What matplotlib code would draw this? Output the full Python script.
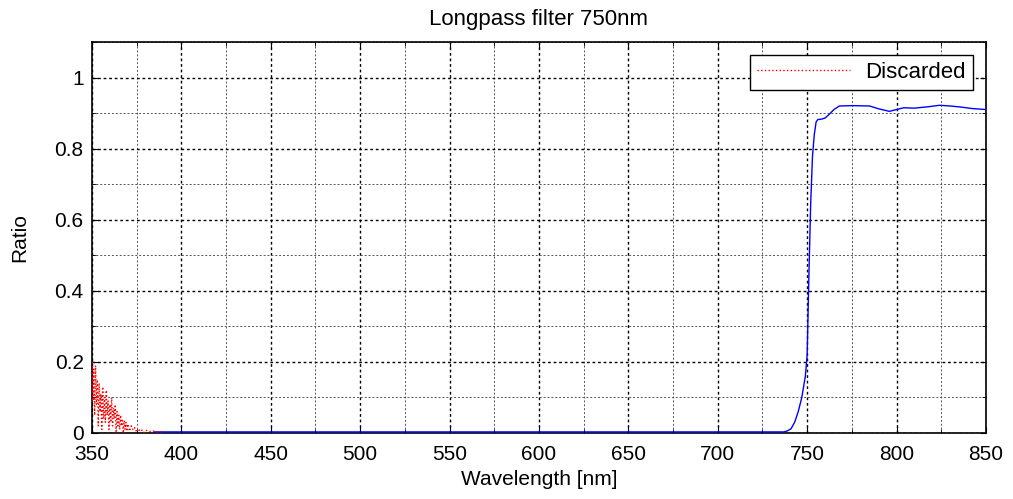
import matplotlib
matplotlib.use("Agg")
import matplotlib.pyplot as plt
from matplotlib.ticker import MultipleLocator

plt.rcParams['font.family'] = ['Liberation Sans', 'DejaVu Sans']

# Discarded (noisy) region
disc_wl = [350, 350.5, 351, 351.5, 352, 352.5, 353, 353.5, 354, 354.5, 355, 355.5, 356, 356.5,
           357, 357.5, 358, 358.5, 359, 359.5, 360, 360.5, 361, 361.5, 362, 362.5, 363, 363.5,
           364, 364.5, 365, 365.5, 366, 366.5, 367, 367.5, 368, 368.5, 369, 369.5, 370, 371,
           372, 373, 374, 375, 376, 377, 378, 379, 380, 382, 384, 386, 388, 390]
disc_val = [0.20, 0.09, 0.18, 0.05, 0.19, 0.08, 0.15, 0.02, 0.14, 0.06, 0.11, 0.01, 0.13, 0.04,
            0.10, 0.03, 0.12, 0.05, 0.09, 0.01, 0.08, 0.03, 0.10, 0.02, 0.07, 0.04, 0.08, 0.0,
            0.06, 0.02, 0.05, 0.01, 0.05, 0.02, 0.04, 0.0, 0.035, 0.01, 0.03, 0.005, 0.025, 0.005,
            0.02, 0.008, 0.015, 0.002, 0.012, 0.004, 0.008, 0.001, 0.008, 0.004, 0.006, 0.003, 0.004, 0.003]

# Kept transmission curve
wl = [385, 420, 500, 600, 700, 737, 739, 741, 743, 745, 747, 748, 749, 750, 751, 752,
      753, 754, 755, 756, 758, 760, 762, 765, 768, 775, 785, 790, 796, 800, 804, 810,
      818, 824, 830, 836, 842, 850]
val = [0.003, 0.003, 0.003, 0.003, 0.003, 0.003, 0.006, 0.012, 0.03, 0.06, 0.10, 0.13, 0.16, 0.22, 0.45, 0.65,
       0.78, 0.84, 0.875, 0.882, 0.883, 0.886, 0.895, 0.91, 0.92, 0.921, 0.92, 0.912, 0.905, 0.910, 0.915, 0.914,
       0.918, 0.922, 0.92, 0.917, 0.913, 0.91]

fig = plt.figure(figsize=(10.13, 4.99), dpi=100)
ax = fig.add_axes([0.0908, 0.1323, 0.8825, 0.7835])

ax.plot(wl, val, color='blue', lw=1.0, zorder=3)
ax.plot(disc_wl, disc_val, color='red', lw=1.0, ls=':', label='Discarded', zorder=4)

ax.set_xlim(350, 850)
ax.set_ylim(0, 1.1)
ax.xaxis.set_major_locator(MultipleLocator(50))
ax.xaxis.set_minor_locator(MultipleLocator(25))
ax.yaxis.set_major_locator(MultipleLocator(0.2))
ax.yaxis.set_minor_locator(MultipleLocator(0.1))
ax.set_yticks([0, 0.2, 0.4, 0.6, 0.8, 1.0])
ax.set_yticklabels(['0', '0.2', '0.4', '0.6', '0.8', '1'])

ax.grid(which='major', color='black', ls=(0, (2, 2)), lw=1.0)
ax.grid(which='minor', color='#555555', ls=(0, (2, 2)), lw=0.7)
ax.set_axisbelow(True)
ax.tick_params(which='both', direction='in', top=True, right=True, labelsize=15)
ax.tick_params(which='major', length=4)
ax.tick_params(axis='x', which='major', pad=9)
ax.tick_params(axis='y', which='major', pad=6)
ax.tick_params(which='minor', length=3)
for s in ax.spines.values():
    s.set_linewidth(1.2)
    s.set_color('black')

ax.set_title('Longpass filter 750nm', fontsize=16, pad=12)
ax.set_xlabel('Wavelength [nm]', fontsize=15, labelpad=4)
ax.set_ylabel('Ratio', fontsize=15, labelpad=18)

leg = ax.legend(loc='upper right', fontsize=16, frameon=True, fancybox=False,
                framealpha=1, edgecolor='black', borderpad=0.3, handlelength=4.2,
                handletextpad=0.7, borderaxespad=0.6)
leg.get_frame().set_linewidth(1.0)

fig.savefig('out.png', dpi=100)
